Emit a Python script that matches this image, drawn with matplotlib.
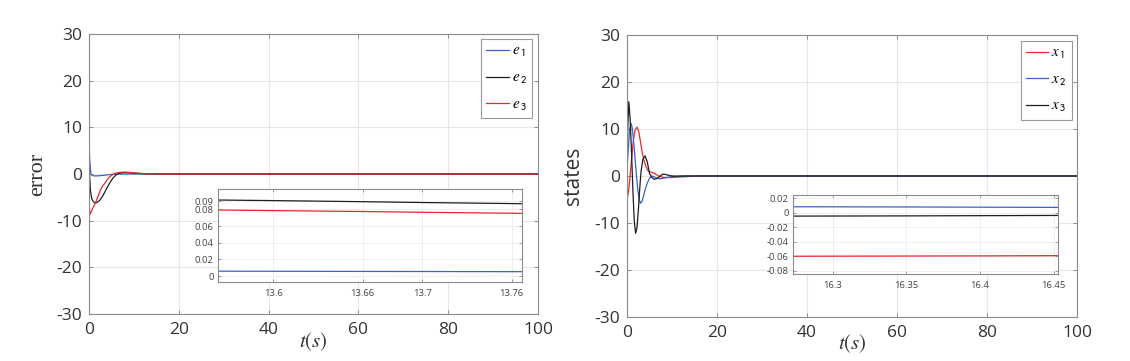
import matplotlib
matplotlib.use("Agg")
import matplotlib.pyplot as plt

plt.rcParams['font.family'] = ['Open Sans', 'DejaVu Sans']
plt.rcParams['mathtext.fontset'] = 'stix'
plt.rcParams['axes.unicode_minus'] = False

# ---------------- data: left panel (error) ----------------
e1_t = [0, 0.15, 0.4, 0.7, 1.0, 2.0, 3.0, 4.0, 5.0, 6.0, 8.0, 10.0, 15.0, 100.0]
e1_v = [8.0, 3.0, 0.0, -0.3, -0.4, -0.4, -0.3, -0.2, -0.1, 0.0, 0.0, 0.0, 0.0, 0.0]

e2_t = [0, 0.1, 0.3, 0.6, 1.0, 1.4, 1.8, 2.4, 3.0, 3.6, 4.2, 4.8, 5.4, 6.0, 6.6, 7.5, 8.5, 10, 12, 15, 100]
e2_v = [6.0, 0.0, -3.5, -5.3, -6.0, -6.2, -6.1, -5.6, -4.8, -3.7, -2.6, -1.6, -0.8, -0.2, 0.1, 0.3, 0.3, 0.2, 0.05, 0.0, 0.0]

e3_t = [0, 0.2, 0.5, 1.0, 1.5, 2.0, 2.5, 3.0, 3.5, 4.0, 4.5, 5.0, 5.5, 6.0, 7, 8, 9, 10, 12, 15, 100]
e3_v = [-6.0, -8.7, -8.0, -7.0, -6.0, -4.8, -3.5, -2.6, -2.0, -1.3, -0.7, -0.3, 0.0, 0.2, 0.35, 0.4, 0.35, 0.25, 0.1, 0.0, 0.0]

# inset (zoom of error)
ie_t = [13.563, 13.6, 13.66, 13.7, 13.767]
ie1_v = [0.0058, 0.0057, 0.0055, 0.0054, 0.0052]
ie2_v = [0.0912, 0.0905, 0.0892, 0.0882, 0.0868]
ie3_v = [0.0792, 0.0785, 0.0774, 0.0765, 0.0752]

# ---------------- data: right panel (states) ----------------
x1_t = [0, 0.3, 0.6, 1.0, 1.4, 1.8, 2.2, 2.6, 3.0, 3.4, 3.8, 4.2, 4.6, 5.0, 5.5, 6, 6.5, 7, 8, 9, 10, 12, 14, 16, 100]
x1_v = [-5.0, -3.5, -0.8, 3.5, 7.5, 9.8, 10.4, 9.5, 7.2, 4.8, 3.2, 2.0, 1.2, 0.9, 0.8, 0.6, 0.3, 0.0, -0.3, -0.35, -0.3, -0.2, -0.1, 0.0, 0.0]

x2_t = [0, 0.3, 0.6, 0.9, 1.2, 1.5, 1.8, 2.1, 2.4, 2.7, 3.0, 3.3, 3.6, 4.0, 4.5, 5.0, 5.5, 6, 7, 8, 9, 10, 12, 100]
x2_v = [1.5, 6.0, 10.0, 11.2, 10.0, 7.0, 3.5, 0.0, -3.0, -5.0, -5.8, -5.5, -4.5, -3.0, -1.5, -0.5, 0.0, -0.2, -0.6, -0.5, -0.3, -0.1, 0.0, 0.0]

x3_t = [0, 0.15, 0.4, 0.7, 1.0, 1.3, 1.6, 1.9, 2.2, 2.5, 2.8, 3.1, 3.5, 4.0, 4.5, 5.0, 5.5, 6.0, 6.5, 7, 7.5, 8, 8.5, 9, 10, 11, 13, 15, 100]
x3_v = [2.0, 10.0, 15.8, 12.0, 5.0, -3.0, -9.5, -12.2, -11.0, -7.5, -3.0, 0.8, 3.5, 4.3, 3.0, 0.5, -0.3, -0.7, -0.6, -0.3, 0.1, 0.4, 0.35, 0.2, 0.0, -0.05, 0.0, 0.0, 0.0]

# inset (zoom of states)
is_t = [16.273, 16.3, 16.35, 16.4, 16.453]
is1_v = [-0.0600, -0.0599, -0.0597, -0.0595, -0.0592]
is2_v = [0.0083, 0.0082, 0.0080, 0.0077, 0.0074]
is3_v = [-0.0046, -0.0045, -0.0043, -0.0040, -0.0037]

main_xticks = [0, 20, 40, 60, 80, 100]
main_yticks = [-30, -20, -10, 0, 10, 20, 30]
ie_xticks = [13.6, 13.66, 13.7, 13.76]
ie_xlabels = ['13.6', '13.66', '13.7', '13.76']
ie_yticks = [0, 0.02, 0.04, 0.06, 0.08, 0.09]
ie_ylabels = ['0', '0.02', '0.04', '0.06', '0.08', '0.09']
is_xticks = [16.3, 16.35, 16.4, 16.45]
is_xlabels = ['16.3', '16.35', '16.4', '16.45']
is_yticks = [-0.08, -0.06, -0.04, -0.02, 0, 0.02]
is_ylabels = ['-0.08', '-0.06', '-0.04', '-0.02', '0', '0.02']

BLUE = '#3d62c4'
RED = '#e8282d'
BLACK = '#1e1e1e'
SPINE = '#8c8c8c'
GRID = '#e6e6e6'
TXT = '#333333'

fig = plt.figure(figsize=(11.30, 3.61), dpi=100)


def style_main(ax):
    ax.set_xlim(0, 100)
    ax.set_ylim(-30, 30)
    ax.set_xticks(main_xticks)
    ax.set_yticks(main_yticks)
    ax.grid(True, color=GRID, linewidth=0.8)
    ax.set_axisbelow(True)
    for s in ax.spines.values():
        s.set_color(SPINE)
        s.set_linewidth(0.8)
    ax.tick_params(direction='in', length=3, width=0.7, color=SPINE,
                   top=True, right=True, labelsize=12.5, labelcolor=TXT)
    ax.tick_params(axis='x', pad=6)
    ax.tick_params(axis='y', pad=5)


def style_inset(ax, xl, yl, xt, xtl, yt, ytl):
    ax.set_xlim(*xl)
    ax.set_ylim(*yl)
    ax.set_xticks(xt)
    ax.set_xticklabels(xtl)
    ax.set_yticks(yt)
    ax.set_yticklabels(ytl)
    ax.grid(True, color='#ececec', linewidth=0.6)
    ax.set_axisbelow(True)
    for s in ax.spines.values():
        s.set_color(SPINE)
        s.set_linewidth(0.8)
    ax.tick_params(direction='in', length=2.5, width=0.6, color=SPINE,
                   top=True, right=True, labelsize=6.8, labelcolor='#444444')
    ax.tick_params(axis='x', pad=5)
    ax.tick_params(axis='y', pad=3)


# ---------------- left panel ----------------
axL = fig.add_axes([0.0788, 0.1302, 0.3973, 0.7756])
style_main(axL)
axL.plot(e1_t, e1_v, color=BLUE, lw=0.9, label=r'$e_{\,\mathsf{1}}$')
axL.plot(e2_t, e2_v, color=BLACK, lw=0.9, label=r'$e_{\,\mathsf{2}}$')
axL.plot(e3_t, e3_v, color=RED, lw=0.9, label=r'$e_{\,\mathsf{3}}$')
axL.set_ylabel('error', family='Liberation Serif', fontsize=16, color=TXT)
axL.yaxis.set_label_coords(-0.093, 0.5)
axL.set_xlabel(r'$t(s)$', fontsize=15, color=TXT)
axL.xaxis.set_label_coords(0.5, -0.06)
legL = axL.legend(loc='upper right', bbox_to_anchor=(0.9866, 0.982), borderaxespad=0,
                  fontsize=11, handlelength=1.45, handletextpad=0.2, labelspacing=0.75,
                  borderpad=0.35, fancybox=False, framealpha=1, edgecolor='#999999')
legL.get_frame().set_linewidth(0.8)

insL = fig.add_axes([0.1929, 0.2188, 0.2690, 0.2576])
style_inset(insL, (13.563, 13.767), (-0.0072, 0.1044), ie_xticks, ie_xlabels, ie_yticks, ie_ylabels)
insL.plot(ie_t, ie1_v, color=BLUE, lw=0.9)
insL.plot(ie_t, ie2_v, color=BLACK, lw=0.9)
insL.plot(ie_t, ie3_v, color=RED, lw=0.9)

# ---------------- right panel ----------------
axR = fig.add_axes([0.5549, 0.1219, 0.3982, 0.7812])
style_main(axR)
axR.plot(x1_t, x1_v, color=RED, lw=0.9, label=r'$x_{\,\mathsf{1}}$')
axR.plot(x2_t, x2_v, color=BLUE, lw=0.9, label=r'$x_{\,\mathsf{2}}$')
axR.plot(x3_t, x3_v, color=BLACK, lw=0.9, label=r'$x_{\,\mathsf{3}}$')
axR.set_ylabel('states', fontsize=15, color=TXT)
axR.yaxis.set_label_coords(-0.096, 0.5)
axR.set_xlabel(r'$t(s)$', fontsize=15, color=TXT)
axR.xaxis.set_label_coords(0.5, -0.055)
legR = axR.legend(loc='upper right', bbox_to_anchor=(0.989, 0.979), borderaxespad=0,
                  fontsize=11, handlelength=1.45, handletextpad=0.2, labelspacing=0.75,
                  borderpad=0.35, fancybox=False, framealpha=1, edgecolor='#999999')
legR.get_frame().set_linewidth(0.8)

insR = fig.add_axes([0.7018, 0.2410, 0.2345, 0.2188])
style_inset(insR, (16.273, 16.453), (-0.0845, 0.0245), is_xticks, is_xlabels, is_yticks, is_ylabels)
insR.plot(is_t, is1_v, color=RED, lw=0.9)
insR.plot(is_t, is2_v, color=BLUE, lw=0.9)
insR.plot(is_t, is3_v, color=BLACK, lw=0.9)

fig.savefig('out.png', dpi=100)
